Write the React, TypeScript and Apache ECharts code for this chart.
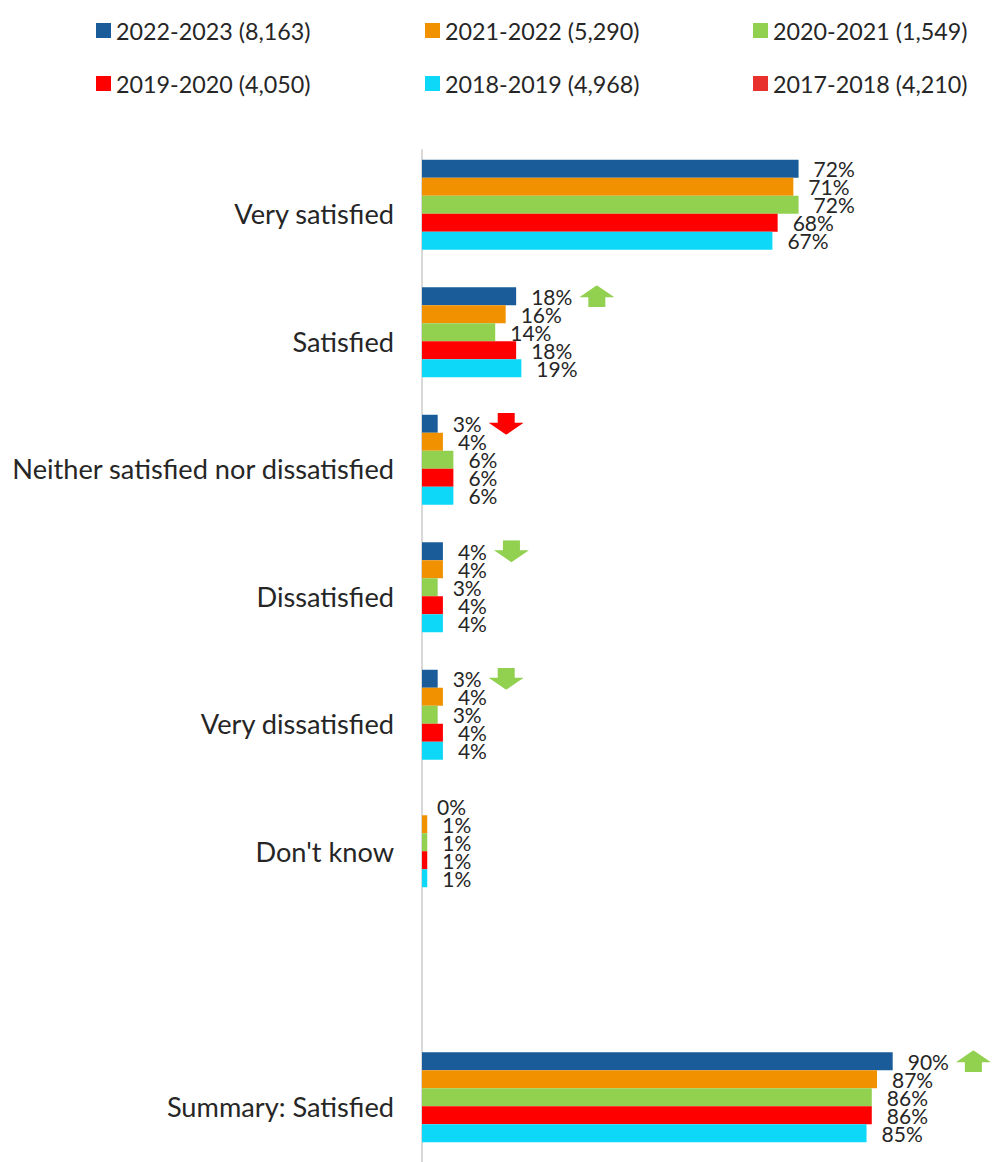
import React, { useEffect, useRef } from "react";
import * as echarts from "echarts";

const categories = [
  "Very satisfied",
  "Satisfied",
  "Neither satisfied nor dissatisfied",
  "Dissatisfied",
  "Very dissatisfied",
  "Don't know",
  "",
  "Summary: Satisfied",
];

const seriesNames = [
  "2022-2023 (8,163)",
  "2021-2022 (5,290)",
  "2020-2021 (1,549)",
  "2019-2020 (4,050)",
  "2018-2019 (4,968)",
  "2017-2018 (4,210)",
];

const values2022_2023 = [72, 18, 3, 4, 3, 0, null, 90];
const values2021_2022 = [71, 16, 4, 4, 4, 1, null, 87];
const values2020_2021 = [72, 14, 6, 3, 3, 1, null, 86];
const values2019_2020 = [68, 18, 6, 4, 4, 1, null, 86];
const values2018_2019 = [67, 19, 6, 4, 4, 1, null, 85];
const values2017_2018 = [null, null, null, null, null, null, null, null];

// significance markers for 2022-2023 vs previous year
const significance2022_2023 = [null, "upGreen", "downRed", "downGreen", "downGreen", null, null, "upGreen"];

const colors = ["#1A5C99", "#F29100", "#92D050", "#FF0000", "#0DD8F7", "#E8302C"];

const TEXT = "#262626";
const FONT = "Lato, 'Liberation Sans', sans-serif";

function arrowSvg(dir: "up" | "down", color: string) {
  const pts =
    dir === "up"
      ? "0,12 17.5,0 35,12 26,12 26,22 9,22 9,12"
      : "9,0 26,0 26,10 35,10 17.5,22 0,10 9,10";
  const svg = `<svg xmlns="http://www.w3.org/2000/svg" width="35" height="22" viewBox="0 0 35 22"><polygon points="${pts}" fill="${color}"/></svg>`;
  return "data:image/svg+xml;charset=utf-8," + encodeURIComponent(svg);
}

export default function App() {
  const ref = useRef<HTMLDivElement>(null);
  useEffect(() => {
    if (!ref.current) return;
    const chart = echarts.init(ref.current, null, { renderer: "svg" });
    const allValues = [
      values2022_2023,
      values2021_2022,
      values2020_2021,
      values2019_2020,
      values2018_2019,
      values2017_2018,
    ];
    const legendPos = [
      { left: 91, top: 14 },
      { left: 420, top: 14 },
      { left: 748, top: 14 },
      { left: 91, top: 67 },
      { left: 420, top: 67 },
      { left: 748, top: 67 },
    ];
    const arrowRich: any = {
      v: { fontSize: 21, color: TEXT, fontFamily: FONT },
      gap: { width: 7 },
      upGreen: { height: 22, width: 35, backgroundColor: { image: arrowSvg("up", "#92D050") } },
      downGreen: { height: 22, width: 35, backgroundColor: { image: arrowSvg("down", "#92D050") } },
      downRed: { height: 22, width: 35, backgroundColor: { image: arrowSvg("down", "#FF0000") } },
      upRed: { height: 22, width: 35, backgroundColor: { image: arrowSvg("up", "#FF0000") } },
    };
    chart.setOption({
      animation: false,
      color: colors,
      legend: seriesNames.map((name, i) => ({
        data: [name],
        left: legendPos[i].left,
        top: legendPos[i].top,
        icon: "rect",
        itemWidth: 15,
        itemHeight: 15,
        itemGap: 0,
        selectedMode: false,
        textStyle: { fontSize: 23.3, color: TEXT, fontFamily: FONT },
      })),
      grid: {
        left: 422,
        width: 523,
        top: 150,
        height: 1020,
        containLabel: false,
        outerBoundsMode: "none",
      },
      xAxis: {
        type: "value",
        min: 0,
        max: 100,
        show: false,
      },
      yAxis: {
        type: "category",
        inverse: true,
        data: categories,
        axisTick: { show: false },
        axisLine: { show: true, lineStyle: { color: "#D9D9D9", width: 2 } },
        axisLabel: { margin: 28, fontSize: 27.2, color: TEXT, fontFamily: FONT, interval: 0 },
      },
      series: seriesNames.map((name, si) => ({
        name,
        type: "bar",
        data: allValues[si],
        barWidth: 18,
        barGap: "0%",
        label: {
          show: true,
          position: "right",
          distance: 15,
          color: TEXT,
          fontFamily: FONT,
          fontSize: 21,
          formatter: (p: any) => {
            if (p.value == null) return "";
            const s = `${p.value}%`;
            const a = si === 0 ? significance2022_2023[p.dataIndex] : null;
            return a ? `{v|${s}}{gap|}{${a}|}` : `{v|${s}}`;
          },
          rich: arrowRich,
        },
      })),
    });
    return () => chart.dispose();
  }, []);
  return (
    <div
      ref={ref}
      style={{ position: "fixed", left: 0, top: 0, width: 992, height: 1162, background: "#fff" }}
    />
  );
}
